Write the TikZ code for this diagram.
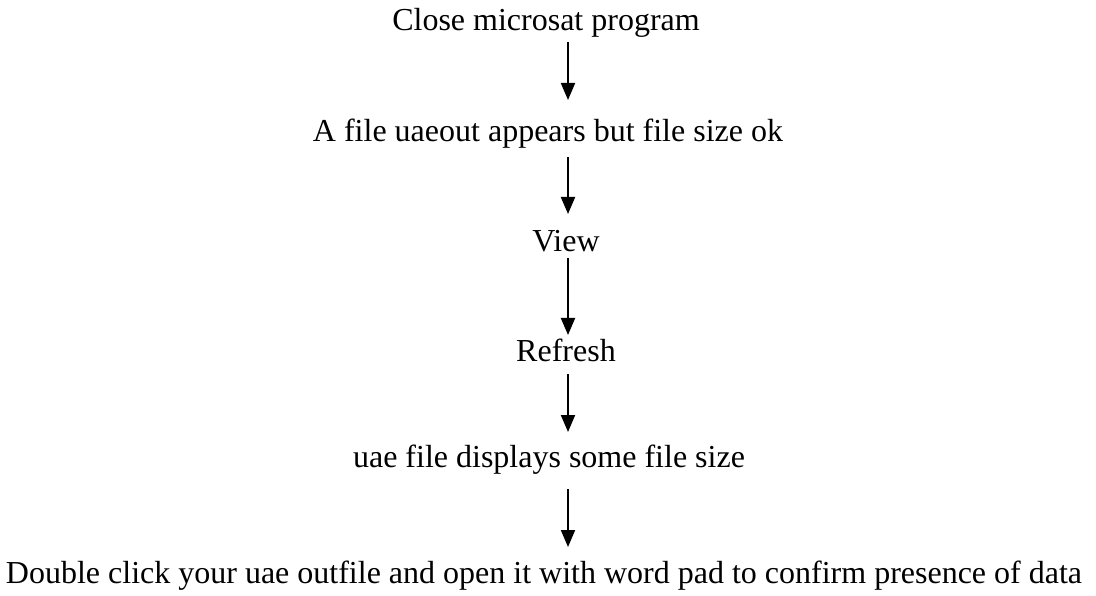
\documentclass[tikz,border=0pt]{standalone}
\usepackage{fontspec}
\setmainfont{Liberation Serif}[Ligatures=NoCommon]
\usetikzlibrary{arrows.meta}
\begin{document}
\begin{tikzpicture}[x=1pt,y=-1pt,
  lbl/.style={anchor=base,inner sep=0pt,font=\fontsize{32}{36}\selectfont},
  arr/.style={line width=2pt,-{Triangle[length=17pt,width=14pt]}}]
\useasboundingbox (0,0) rectangle (1096,596);
\node[lbl] (t1) at (546,31) {Close microsat program};
\node[lbl] (t2) at (548,142) {A file uaeout appears but file size ok};
\node[lbl] (t3) at (566,252) {View};
\node[lbl] (t4) at (566,362) {Refresh};
\node[lbl] (t5) at (549,467) {uae file displays some file size};
\node[lbl] (t6) at (544,583) {Double click your uae outfile and open it with word pad to confirm presence of data};
\coordinate (a1s) at (568,42);  \coordinate (a1e) at (568,100);
\coordinate (a2s) at (568,157); \coordinate (a2e) at (568,214);
\coordinate (a3s) at (568,258); \coordinate (a3e) at (568,335);
\coordinate (a4s) at (568,374); \coordinate (a4e) at (568,432);
\coordinate (a5s) at (568,489); \coordinate (a5e) at (568,547);
\draw[arr] (a1s) -- (a1e);
\draw[arr] (a2s) -- (a2e);
\draw[arr] (a3s) -- (a3e);
\draw[arr] (a4s) -- (a4e);
\draw[arr] (a5s) -- (a5e);
\end{tikzpicture}
\end{document}
